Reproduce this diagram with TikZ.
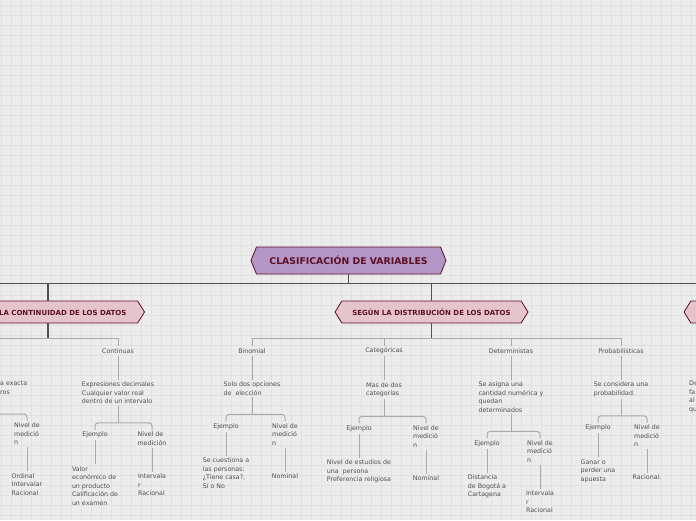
\documentclass[tikz,border=0pt]{standalone}
\usepackage{fontspec}
\setmainfont{DejaVu Sans}
\usetikzlibrary{positioning,shapes.symbols,calc}
\definecolor{bggray}{RGB}{236,236,236}
\definecolor{gridgray}{RGB}{225,225,225}
\definecolor{rootpurple}{RGB}{180,150,198}
\definecolor{branchpink}{RGB}{230,196,204}
\definecolor{darkmaroon}{RGB}{92,16,36}
\definecolor{linedark}{RGB}{80,80,80}
\definecolor{linegray}{RGB}{170,170,170}
\definecolor{textgray}{RGB}{80,80,80}

\begin{document}
\begin{tikzpicture}[
  x=1pt, y=-1pt,
  node distance=24pt,
  rootbox/.style={signal, signal to=east and west, signal pointer angle=136, draw=darkmaroon, line width=0.8pt, fill=rootpurple, minimum width=195pt, minimum height=27pt, inner sep=0pt, font=\fontsize{9.3}{10}\selectfont\bfseries, text=darkmaroon},
  branchbox/.style={rootbox, fill=branchpink, signal pointer angle=116, minimum width=193pt, minimum height=22pt, font=\fontsize{7}{8}\selectfont\bfseries},
  lbl/.style={inner sep=2pt, align=left, text=textgray, font=\fontsize{6.3}{8.5}\selectfont},
  main/.style={draw=linedark, line width=1.2pt},
  sub/.style={draw=linegray, line width=1pt},
  bracket/.style={sub, rounded corners=3pt},
  gridline/.style={draw=gridgray, line width=0.5pt}
]
\useasboundingbox (0,0) rectangle (696,520);
\clip (0,0) rectangle (696,520);
\fill[bggray] (0,0) rectangle (696,520);
\foreach \gx in {1,11,...,691}
  \draw[gridline] (\gx,0) -- (\gx,520);
\foreach \gy in {5,15,...,515}
  \draw[gridline] (0,\gy) -- (696,\gy);

% main topics
\node[rootbox] (root) at (348.5,260.5) {CLASIFICACIÓN DE VARIABLES};
\node[branchbox] (cont) at (48,312) {SEGÚN LA CONTINUIDAD DE LOS DATOS};
\node[branchbox] (distr) at (431.5,312) {SEGÚN LA DISTRIBUCIÓN DE LOS DATOS};
\node[branchbox] (rnode) at (780.5,312) {};

% subtopics
\node[lbl] (disc) at (-15,351) {Discretas};
\node[lbl] (contin) at (118,351) {Continuas};
\node[lbl] (binom) at (252,351) {Binomial};
\node[lbl] (categ) at (384,351) {Categóricas};
\node[lbl] (determ) at (511,351) {Deterministas};
\node[lbl] (prob) at (621,351) {Probabilísticas};

\node[lbl, anchor=north west] (disct) at (-2,379) {a exacta\\ros};
\node[lbl, below=of contin] (contt) {Expresiones decimales\\Cualquier valor real\\dentro de un intervalo};
\node[lbl, below=of binom] (binomt) {Solo dos opciones\\de\ \ elección};
\node[lbl, below=of categ] (categt) {Mas de dos\\categorías};
\node[lbl, below=of determ] (determt) {Se asigna una\\cantidad numérica y\\quedan\\determinados};
\node[lbl, below=of prob] (probt) {Se considera una\\probabilidad.};
\node[lbl, anchor=north west] (rightt) at (687,379) {De\\fa\\al\\qu};

% ejemplo / nivel de medicion
\node[lbl, anchor=north] (discnv) at (27,421) {Nivel de\\medició\\n};
\node[lbl, below=of contt, xshift=-23pt] (contej) {Ejemplo};
\node[lbl, below=of contt, xshift=34pt] (contnv) {Nivel de\\medición};
\node[lbl, below=of binomt, xshift=-26pt] (binomej) {Ejemplo};
\node[lbl, below=of binomt, xshift=33pt] (binomnv) {Nivel de\\medició\\n};
\node[lbl, below=of categt, xshift=-25pt] (categej) {Ejemplo};
\node[lbl, below=of categt, xshift=42pt] (categnv) {Nivel de\\medició\\n};
\node[lbl, below=of determt, xshift=-24pt] (determej) {Ejemplo};
\node[lbl, below=of determt, xshift=29pt] (determnv) {Nivel de\\medició\\n};
\node[lbl, below=of probt, xshift=-23pt] (probej) {Ejemplo};
\node[lbl, below=of probt, xshift=26pt] (probnv) {Nivel de\\medició\\n};

\node[lbl, below=of discnv] (discnvt) {Ordinal\\Intervalar\\Racional};
\node[lbl, below=of contej] (contejt) {Valor\\económico de\\un producto\\Calificación de\\un examen};
\node[lbl, below=of contnv] (contnvt) {Intervala\\r\\Racional};
\node[lbl, below=of binomej] (binomejt) {Se cuestiona a\\las personas:\\¿Tiene casa?,\\Sí o No};
\node[lbl, below=of binomnv] (binomnvt) {Nominal};
\node[lbl, below=of categej] (categejt) {Nivel de estudios de\\una\ \ persona\\Preferencia religiosa};
\node[lbl, below=of categnv] (categnvt) {Nominal};
\node[lbl, below=of determej] (determejt) {Distancia\\de Bogotá a\\Cartagena};
\node[lbl, below=of determnv] (determnvt) {Intervala\\r\\Racional};
\node[lbl, below=of probej] (probejt) {Ganar o\\perder una\\apuesta};
\node[lbl, below=of probnv] (probnvt) {Racional.};

% connectors
\coordinate (farleft) at (-60,0);
\draw[main] (root.south) -- ++(0,9) coordinate (rj);
\draw[main] (farleft |- rj) -- (cont.north |- rj);
\draw[main] (cont.north) |- (rj) -| (rnode.north);
\draw[main] (distr.north) -- (distr.north |- rj);

\draw[main] (cont.south) -- ++(0,15) coordinate (cj);
\draw[main] (distr.south) -- ++(0,15) coordinate (dj);
\draw[sub] (disc.north) |- (cj) -| (contin.north);
\draw[sub] (binom.north) |- (dj) -| (prob.north);
\foreach \n in {categ,determ}
  \draw[sub] (\n.north) -- (\n.north |- dj);

\foreach \a/\b in {disc/disct,contin/contt,binom/binomt,categ/categt,determ/determt,prob/probt,
  discnv/discnvt,contej/contejt,contnv/contnvt,binomej/binomejt,binomnv/binomnvt,categej/categejt,
  categnv/categnvt,determej/determejt,determnv/determnvt,probej/probejt,probnv/probnvt}
  \draw[sub] (\a.south) -- (\a.south |- \b.north);

\foreach \t/\e/\v in {contt/contej/contnv,binomt/binomej/binomnv,categt/categej/categnv,
  determt/determej/determnv,probt/probej/probnv}{
  \path (\e.north) ++(0,-7) coordinate (\t-j);
  \draw[sub] (\t.south) -- (\t.south |- \t-j);
  \draw[bracket] (\e.north) -- (\t-j) -| (\v.north);
}
\path (discnv.north) ++(0,-7) coordinate (discj);
\draw[sub] (disct.south -| disc.south) -- (disc.south |- discj);
\draw[bracket] (disc.south |- discj) -| (discnv.north);
\end{tikzpicture}
\end{document}
